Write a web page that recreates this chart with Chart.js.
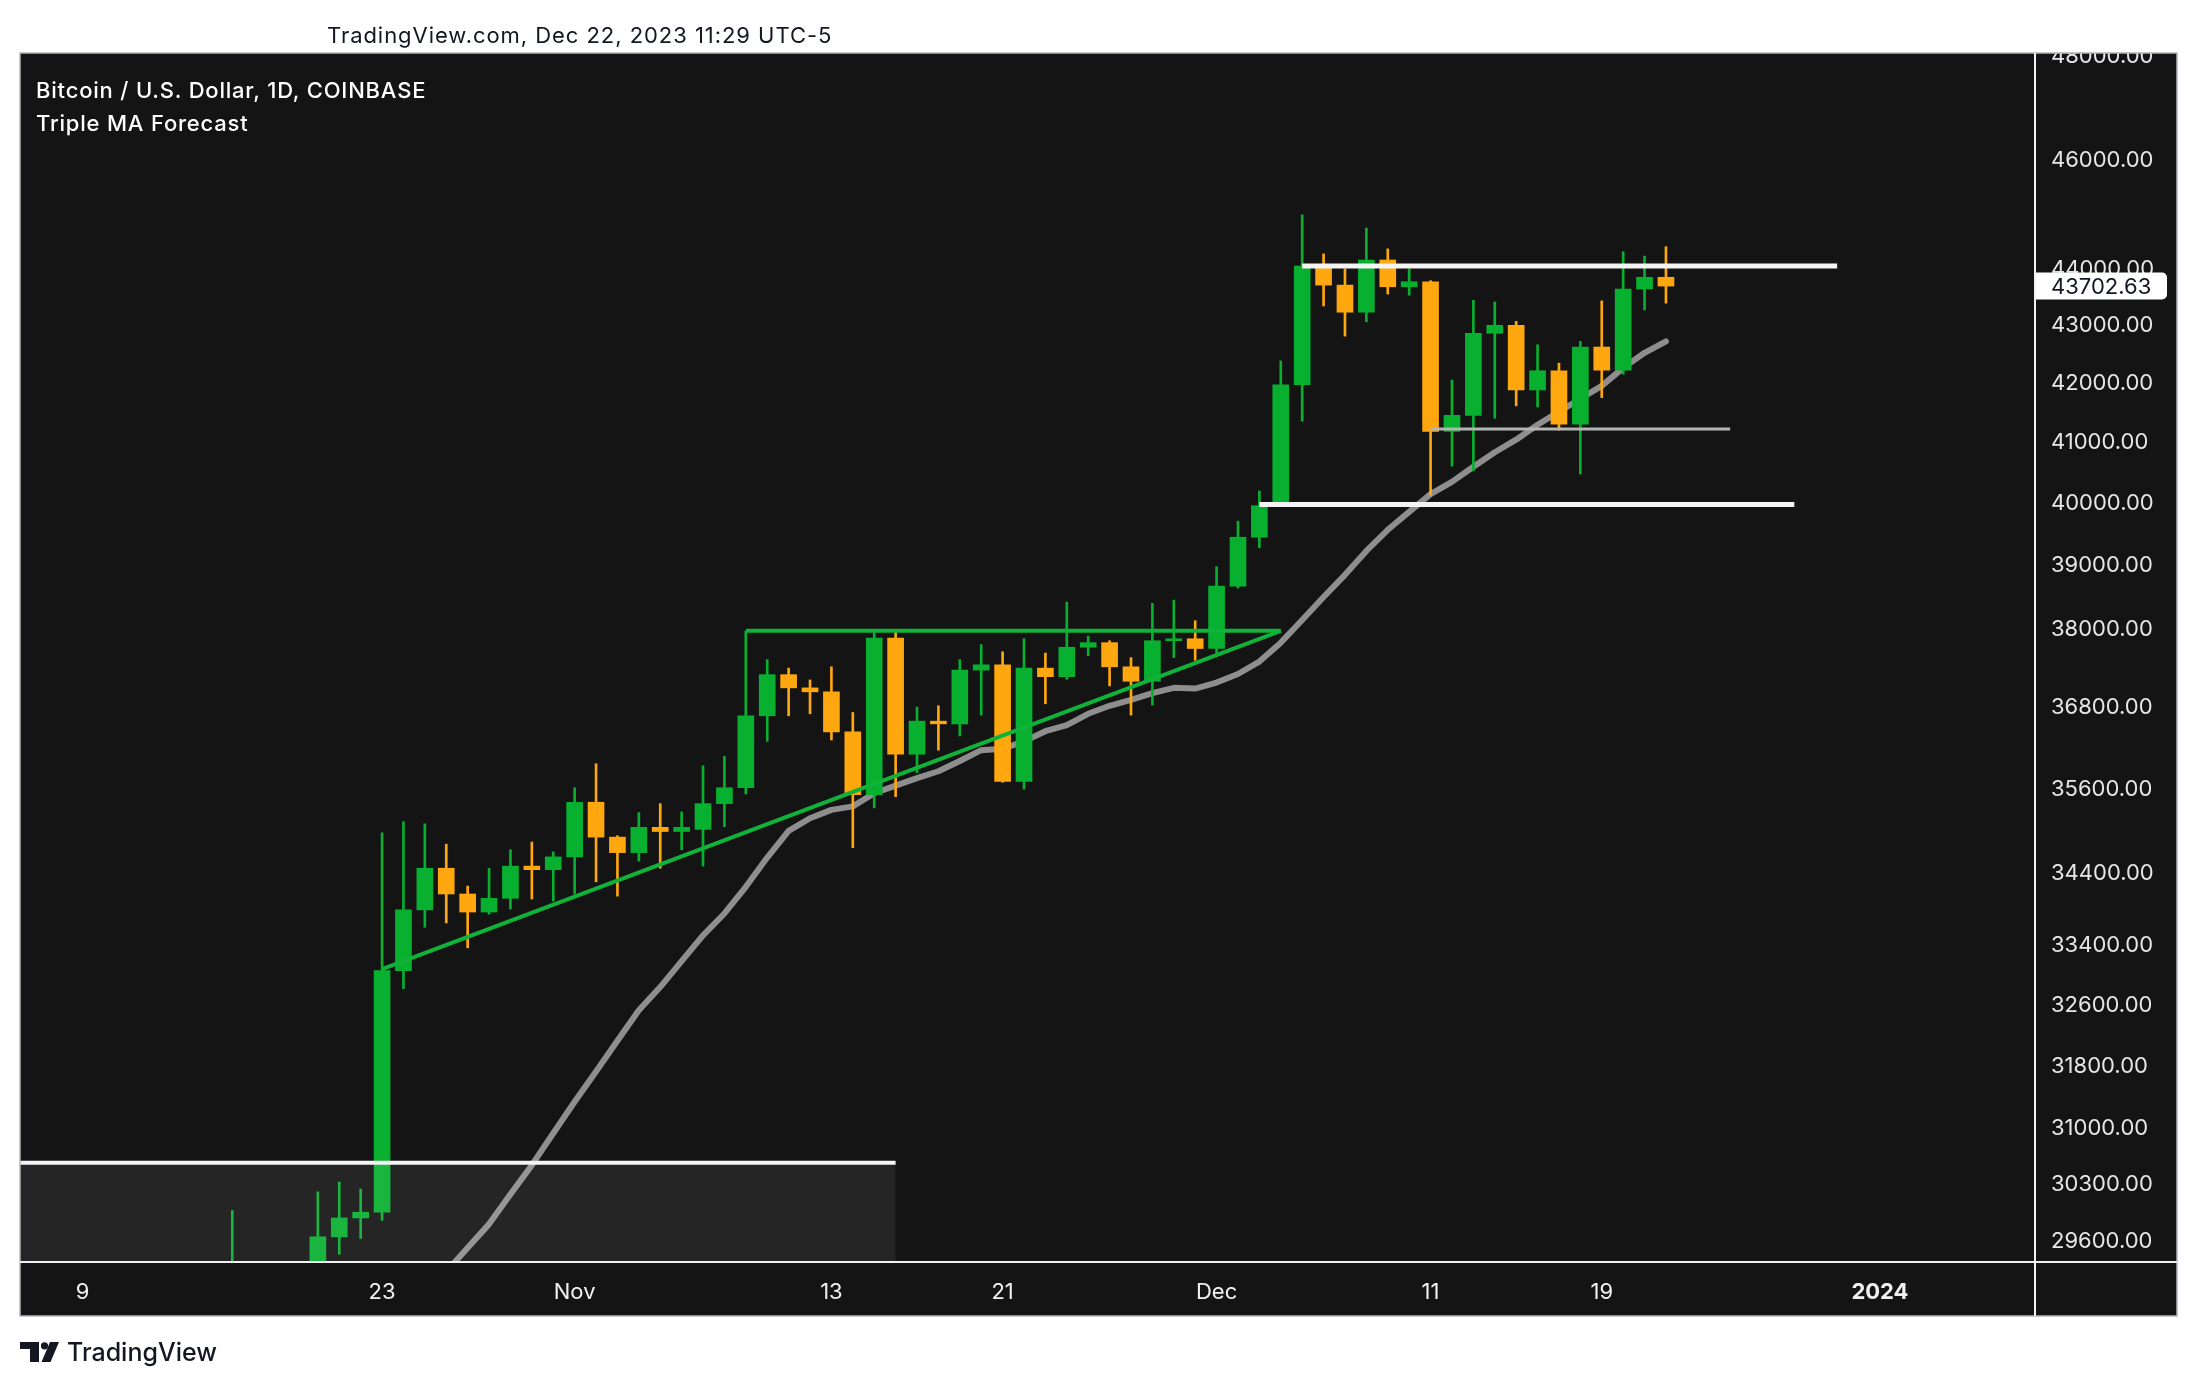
<!DOCTYPE html>
<html>
<head>
<meta charset="utf-8">
<script src="https://cdn.jsdelivr.net/npm/chart.js@4.4.1/dist/chart.umd.min.js"></script>
<style>
  body { margin: 0; background: #ffffff; }
  #wrap { position: relative; width: 2196px; height: 1388px; overflow: hidden; }
  #c { position: absolute; left: 0; top: 0; width: 2196px; height: 1388px; }
  .txt { position: absolute; font-family: Inter, "Noto Sans", sans-serif; white-space: nowrap; }
</style>
</head>
<body>
<div id="wrap">
  <canvas id="c" width="2196" height="1388"></canvas>
  <div class="txt" style="left:327px; top:22px; font-size:22px; line-height:26px; letter-spacing:0.95px; color:#131722;">TradingView.com, Dec 22, 2023 11:29 UTC-5</div>
  <div class="txt" style="left:36px; top:77px; font-size:22px; line-height:26px; letter-spacing:0.8px; color:#ffffff; font-weight:500;">Bitcoin / U.S. Dollar, 1D, COINBASE</div>
  <div class="txt" style="left:36px; top:110px; font-size:22px; line-height:26px; letter-spacing:0.8px; color:#ffffff; font-weight:500;">Triple MA Forecast</div>
  <svg style="position:absolute; left:20px; top:1342px;" width="40" height="21" viewBox="0 0 40 21">
    <path d="M0 0 H19 V20 H10 V7 H0 Z" fill="#131722"/>
    <circle cx="24.5" cy="3.8" r="3.6" fill="#131722"/>
    <polygon points="30,0 39,0 30.5,20 21.5,20" fill="#131722"/>
  </svg>
  <div class="txt" style="left:67px; top:1337px; font-size:25px; line-height:30px; color:#131722; font-weight:500;">TradingView</div>
</div>
<script>
// daily candles, COINBASE BTC/USD
var dates = [
  '2023-10-16','2023-10-17','2023-10-18','2023-10-19','2023-10-20','2023-10-21','2023-10-22','2023-10-23',
  '2023-10-24','2023-10-25','2023-10-26','2023-10-27','2023-10-28','2023-10-29','2023-10-30','2023-10-31',
  '2023-11-01','2023-11-02','2023-11-03','2023-11-04','2023-11-05','2023-11-06','2023-11-07','2023-11-08',
  '2023-11-09','2023-11-10','2023-11-11','2023-11-12','2023-11-13','2023-11-14','2023-11-15','2023-11-16',
  '2023-11-17','2023-11-18','2023-11-19','2023-11-20','2023-11-21','2023-11-22','2023-11-23','2023-11-24',
  '2023-11-25','2023-11-26','2023-11-27','2023-11-28','2023-11-29','2023-11-30','2023-12-01','2023-12-02',
  '2023-12-03','2023-12-04','2023-12-05','2023-12-06','2023-12-07','2023-12-08','2023-12-09','2023-12-10',
  '2023-12-11','2023-12-12','2023-12-13','2023-12-14','2023-12-15','2023-12-16','2023-12-17','2023-12-18',
  '2023-12-19','2023-12-20','2023-12-21','2023-12-22'
];
var open = [
  27160,28520,28410,28330,28720,29660,29890,29960,33060,33890,34470,34110,33860,34050,34500,34450,
  34630,35410,34910,34690,35050,34990,35020,35390,35620,36680,37300,37100,37040,36440,35520,37860,
  36110,36600,36560,37370,37450,35710,37400,37270,37720,37790,37420,37200,37820,37850,
  37700,38670,39450,39960,41980,44060,43720,43240,44170,43690,43780,41190,41460,42870,43010,41890,
  42220,41310,42630,42230,43650,43860
];
var high = [
  29980,28620,28960,29000,30210,30330,30245,34970,35130,35100,34810,34220,34470,34730,34840,34700,
  35620,35970,34930,35260,35390,35270,35940,36080,37970,37530,37400,37220,37420,36730,37970,37960,
  36810,36830,37530,37760,37650,37850,37630,38420,37890,37820,37560,38400,38450,38130,
  38980,39710,40200,42390,44990,44280,44010,44750,44370,44010,43800,42060,43450,43420,43080,42670,
  42350,42730,43440,44320,44240,44410
];
var low = [
  26990,28100,28140,28210,28600,29450,29640,29860,32820,33650,33710,33370,33830,33900,34040,34010,
  34110,34280,34080,34570,34470,34730,34500,35060,35530,36300,36680,36710,36320,34760,35330,35490,
  35840,36170,36380,36690,35700,35600,36860,37230,37590,37130,36690,36840,37560,37520,
  37630,38640,39280,39950,41360,43350,42820,43070,43560,43540,40130,40610,40530,41410,41620,41600,
  41210,40480,41760,42160,43280,43400
];
var close = [
  28520,28410,28330,28720,29660,29890,29960,33060,33890,34470,34110,33860,34050,34500,34450,34630,
  35410,34910,34690,35050,34990,35050,35390,35620,36680,37300,37100,37040,36440,35520,37860,36110,
  36600,36560,37370,37450,35710,37400,37270,37720,37790,37420,37200,37820,37850,37700,
  38670,39450,39960,41980,44060,43720,43240,44170,43690,43780,41190,41460,42870,43010,41890,42220,
  41310,42630,42230,43650,43860,43702.63
];
// moving average
var maLine = [
  null,null,null,null,null,null,null,null,28670,28955,29240,29530,29815,30180,30540,30940,
  31340,31730,32130,32530,32840,33190,33540,33840,34210,34620,35000,35180,35300,35350,35540,35650,
  35760,35860,36010,36170,36190,36300,36450,36540,36710,36830,36920,37020,37100,37090,
  37180,37310,37500,37790,38140,38500,38850,39230,39570,39860,40150,40350,40600,40840,41050,41300,
  41520,41740,41960,42270,42530,42730
];

// drawings on the chart
var resistLine = [['2023-12-05', 44060], ['2023-12-30', 44060]];
var supportLine = [['2023-12-03', 39980], ['2023-12-28', 39980]];
var rangeLow = [['2023-12-11', 41230], ['2023-12-25', 41230]];
var flatTop = [['2023-11-09', 37973], ['2023-12-04', 37973]];
var riseLine = [['2023-10-23', 33081], ['2023-12-04', 37973]];
var boxTop = [['2023-10-04', 30570], ['2023-11-16', 30570]];

var xTickDates = ['2023-10-09','2023-10-23','2023-11-01','2023-11-13','2023-11-21','2023-12-01','2023-12-11','2023-12-19','2024-01-01'];
var xTickLabels = ['9','23','Nov','13','21','Dec','11','19','2024'];
var yTicks = [29600,30300,31000,31800,32600,33400,34400,35600,36800,38000,39000,40000,41000,42000,43000,44000,46000,48000];

var GREEN = '#08b030';
var ORANGE = '#ffa70f';

function dayIndex(s) {
  var p = s.split('-').map(Number);
  return (Date.UTC(p[0], p[1] - 1, p[2]) - Date.UTC(2023, 9, 1)) / 864e5;
}
function pts(arr) {
  return arr.map(function (a) { return { x: dayIndex(a[0]), y: a[1] }; });
}

var xs = dates.map(dayIndex);
var candleColors = close.map(function (c, i) { return c >= open[i] ? GREEN : ORANGE; });
var xTickDays = xTickDates.map(dayIndex);

function drawing(data, color, width, extra) {
  var ds = {
    type: 'line', data: pts(data), borderColor: color, borderWidth: width,
    pointRadius: 0, fill: false, tension: 0, order: 0, borderCapStyle: 'butt'
  };
  for (var k in extra) ds[k] = extra[k];
  return ds;
}

var framePlugin = {
  id: 'frame',
  beforeDraw: function (chart) {
    var ctx = chart.ctx;
    ctx.save();
    ctx.fillStyle = '#ffffff';
    ctx.fillRect(0, 0, chart.width, chart.height);
    ctx.fillStyle = '#141414';
    ctx.fillRect(20, 53, 2157, 1263);
    ctx.restore();
  },
  afterDraw: function (chart) {
    var ctx = chart.ctx;
    var area = chart.chartArea;
    ctx.save();
    ctx.fillStyle = '#ffffff';
    ctx.fillRect(area.right, 0, chart.width - area.right, 53);
    // outer frame
    ctx.strokeStyle = '#b2b5be';
    ctx.lineWidth = 1.5;
    ctx.strokeRect(20, 53, 2157, 1263);
    // pane separators
    ctx.strokeStyle = '#f2f2f2';
    ctx.lineWidth = 2;
    ctx.beginPath();
    ctx.moveTo(area.right + 1, 53);
    ctx.lineTo(area.right + 1, 1316);
    ctx.moveTo(20, area.bottom + 1);
    ctx.lineTo(2177, area.bottom + 1);
    ctx.stroke();
    // last price label
    var last = close[close.length - 1];
    var y = chart.scales.y.getPixelForValue(last);
    ctx.fillStyle = '#ffffff';
    ctx.beginPath();
    ctx.roundRect(area.right + 2, y - 13.5, 131, 27, [0, 5, 5, 0]);
    ctx.fill();
    ctx.fillStyle = '#131722';
    ctx.font = '22px Inter';
    ctx.textBaseline = 'middle';
    ctx.textAlign = 'left';
    ctx.fillText(last.toFixed(2), area.right + 17, y + 1);
    ctx.restore();
  }
};

var canva = document.getElementById('c').getContext('2d');
var chart = new Chart(canva, {
  type: 'bar',
  data: {
    datasets: [
      drawing(resistLine, '#f4f4f4', 5),
      drawing(supportLine, '#f4f4f4', 5),
      drawing(rangeLow, '#b4b4b4', 3),
      drawing(flatTop, '#10b23a', 4),
      drawing(riseLine, '#10b23a', 4),
      drawing(boxTop, '#f4f4f4', 4, { fill: 'start', backgroundColor: 'rgba(255,255,255,0.075)' }),
      {
        label: 'body',
        data: xs.map(function (x, i) { return { x: x, y: [open[i], close[i]] }; }),
        backgroundColor: candleColors,
        barThickness: 16,
        grouped: false,
        borderWidth: 0,
        order: 1
      },
      {
        label: 'wick',
        data: xs.map(function (x, i) { return { x: x, y: [low[i], high[i]] }; }),
        backgroundColor: candleColors,
        barThickness: 2,
        grouped: false,
        borderWidth: 0,
        order: 2
      },
      {
        type: 'line',
        label: 'MA',
        data: xs.map(function (x, i) { return { x: x, y: maLine[i] }; }),
        borderColor: '#8e8e8e',
        borderWidth: 6,
        borderJoinStyle: 'round',
        borderCapStyle: 'round',
        pointRadius: 0,
        tension: 0,
        fill: false,
        spanGaps: false,
        order: 3
      }
    ]
  },
  options: {
    responsive: false,
    devicePixelRatio: 1,
    animation: false,
    layout: { padding: { left: 20, top: 53, right: 19, bottom: 72 } },
    plugins: { legend: { display: false }, tooltip: { enabled: false } },
    scales: {
      x: {
        type: 'linear',
        offset: false,
        min: 5.08,
        max: 99.2,
        grid: { display: false, drawTicks: false, offset: false },
        border: { display: false },
        afterBuildTicks: function (s) { s.ticks = xTickDays.map(function (v) { return { value: v }; }); },
        afterFit: function (s) { s.height = 55; },
        ticks: {
          autoSkip: false,
          maxRotation: 0,
          padding: 18,
          color: '#f0f0f0',
          font: function (c) {
            var bold = c.tick && c.tick.value === dayIndex('2024-01-01');
            return { family: 'Inter', size: 22, weight: bold ? '700' : '400' };
          },
          callback: function (v) {
            var i = xTickDays.indexOf(v);
            return i >= 0 ? xTickLabels[i] : '';
          }
        }
      },
      y: {
        type: 'logarithmic',
        position: 'right',
        min: 29370,
        max: 48059,
        grid: { display: false, drawTicks: false },
        border: { display: false },
        afterBuildTicks: function (s) { s.ticks = yTicks.map(function (v) { return { value: v }; }); },
        afterFit: function (s) { s.width = 143; },
        ticks: {
          autoSkip: false,
          padding: 17,
          color: '#e6e6e6',
          font: { family: 'Inter', size: 22 },
          callback: function (v) { return Number(v).toFixed(2); }
        }
      }
    }
  },
  plugins: [framePlugin]
});
</script>
</body>
</html>
